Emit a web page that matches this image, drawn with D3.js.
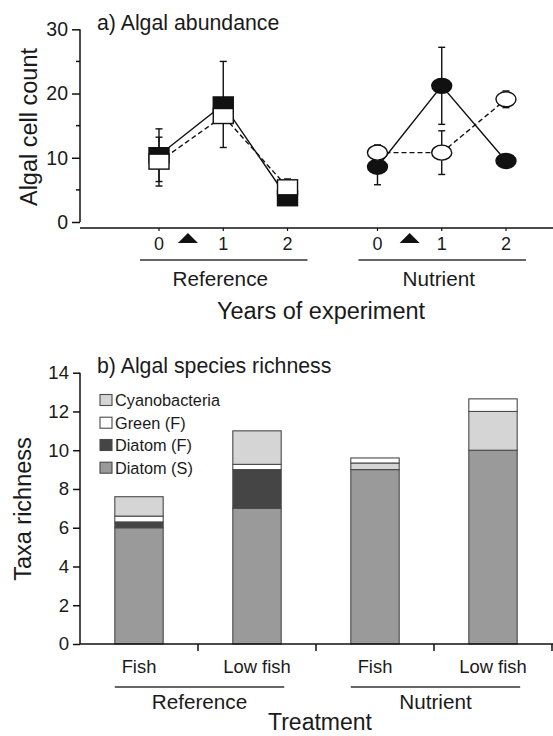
<!DOCTYPE html>
<html>
<head>
<meta charset="utf-8">
<script src="https://cdn.jsdelivr.net/npm/d3@7"></script>
<style>
  html, body { margin: 0; padding: 0; background: #fff; }
  svg text { font-family: "Liberation Sans", Arial, Helvetica, sans-serif; fill: #1a1a1a; }
</style>
</head>
<body>
<svg id="chart" width="553" height="736"></svg>
<script>
// ---------- Panel a data ----------
const years = [0, 1, 2];
const yearTicks = ["0", "1", "2"];
const groupsA = ["Reference", "Nutrient"];
const refFish = [10.4, 18.3, 3.7];        // filled squares
const refFishErr = [4.1, 6.7, 1.0];
const refLowFish = [9.4, 16.5, 5.4];      // open squares
const refLowFishErr = [3.8, 1.0, 1.3];
const nutFish = [8.6, 21.2, 9.5];         // filled circles
const nutFishErr = [2.8, 6.0, 0.8];
const nutLowFish = [10.8, 10.8, 19.1];    // open circles
const nutLowFishErr = [1.2, 3.4, 1.3];
const treatmentStart = [0.45, 0.5];       // triangles (between year 0 and 1)
const yTicksA = [0, 10, 20, 30];
const yMinorA = [5, 15, 25];

// ---------- Panel b data ----------
const treatments = ["Fish", "Low fish", "Fish", "Low fish"];
const groupsB = ["Reference", "Reference", "Nutrient", "Nutrient"];
const diatomS = [6.0, 7.0, 9.0, 10.0];
const diatomF = [0.3, 2.0, 0.0, 0.0];
const greenF = [0.3, 0.27, 0.26, 0.65];
const cyano = [1.0, 1.73, 0.34, 2.0];
const seriesNames = ["Cyanobacteria", "Green (F)", "Diatom (F)", "Diatom (S)"];
const yTicksB = [0, 2, 4, 6, 8, 10, 12, 14];

const svg = d3.select("#chart");
const ink = "#111";

function txt(g, x, y, s, size, anchor, rot) {
  const t = g.append("text").attr("font-size", size).attr("text-anchor", anchor || "start").text(s);
  if (rot) t.attr("transform", `translate(${x},${y}) rotate(${rot})`);
  else t.attr("x", x).attr("y", y);
  return t;
}

// ================= Panel a =================
const gA = svg.append("g");
const yA = d3.scaleLinear().domain([0, 30]).range([222, 29.3]);
const gapOffset = 3.4;
const xA = d3.scaleLinear().domain([0, 5.4]).range([159, 506]);
const offs = [0, gapOffset];

// y axis
const yAxisA = d3.axisLeft(yA).tickValues(yTicksA).tickSize(8).tickPadding(4).tickFormat(d3.format("d"));
const yAx = gA.append("g").attr("transform", "translate(80,0)").call(yAxisA);
yAx.select(".domain").attr("stroke", ink).attr("stroke-width", 1.5).attr("d", `M0,${yA(30)}V${yA(0)}`);
yAx.selectAll(".tick line").attr("stroke", ink).attr("stroke-width", 1.5);
yAx.selectAll(".tick text").attr("font-size", 19.5).attr("font-family", "Liberation Sans, Arial, sans-serif").attr("fill", "#1a1a1a");
gA.append("g").selectAll("line").data(yMinorA).join("line")
  .attr("x1", 76).attr("x2", 80).attr("y1", d => yA(d)).attr("y2", d => yA(d))
  .attr("stroke", ink).attr("stroke-width", 1.5);

// x axis line
const xAxisY = 228;
gA.append("line").attr("x1", 80).attr("x2", 553).attr("y1", xAxisY).attr("y2", xAxisY)
  .attr("stroke", ink).attr("stroke-width", 1.6);
groupsA.forEach((grp, gi) => {
  years.forEach((yr, i) => {
    const x = xA(yr + offs[gi]);
    gA.append("line").attr("x1", x).attr("x2", x).attr("y1", xAxisY).attr("y2", xAxisY + 3)
      .attr("stroke", ink).attr("stroke-width", 1.2);
    txt(gA, x, 249.5, yearTicks[i], 18, "middle");
  });
  // treatment triangle
  const tx = xA(treatmentStart[gi] + offs[gi]);
  gA.append("path").attr("d", `M${tx - 10},243L${tx + 10},243L${tx},233Z`).attr("fill", ink);
  // group line
  const x0 = xA(0 + offs[gi]) - 19, x1 = xA(2 + offs[gi]) + 20;
  gA.append("line").attr("x1", x0).attr("x2", x1).attr("y1", 260).attr("y2", 260)
    .attr("stroke", "#333").attr("stroke-width", 1.3);
  txt(gA, (xA(0 + offs[gi]) + xA(2 + offs[gi])) / 2 - 3, 285.5, grp, 20.7, "middle");
});
txt(gA, 321, 319, "Years of experiment", 23.5, "middle");
txt(gA, 37, 127, "Algal cell count", 23.5, "middle", -90);
txt(gA, 97, 29.5, "a) Algal abundance", 21.3, "start");

// series
const seriesA = [
  { vals: refFish, err: refFishErr, off: 0, filled: true, shape: "rect", dash: null },
  { vals: refLowFish, err: refLowFishErr, off: 0, filled: false, shape: "rect", dash: "5,3" },
  { vals: nutFish, err: nutFishErr, off: gapOffset, filled: true, shape: "ellipse", dash: null },
  { vals: nutLowFish, err: nutLowFishErr, off: gapOffset, filled: false, shape: "ellipse", dash: "5,3" }
];
const lineGen = d3.line().x(d => xA(d.x)).y(d => yA(d.y));
seriesA.forEach(s => {
  const pts = years.map((yr, i) => ({ x: yr + s.off, y: s.vals[i], e: s.err[i] }));
  s.pts = pts;
  gA.append("path").attr("d", lineGen(pts)).attr("fill", "none").attr("stroke", ink)
    .attr("stroke-width", 1.4).attr("stroke-dasharray", s.dash);
});
seriesA.forEach(s => {
  s.pts.forEach(p => {
    const x = xA(p.x), yt = yA(p.y + p.e), yb = yA(p.y - p.e);
    gA.append("line").attr("x1", x).attr("x2", x).attr("y1", yt).attr("y2", yb).attr("stroke", ink).attr("stroke-width", 1.4);
    [yt, yb].forEach(yy => gA.append("line").attr("x1", x - 3.5).attr("x2", x + 3.5).attr("y1", yy).attr("y2", yy)
      .attr("stroke", ink).attr("stroke-width", 1.4));
  });
});
// filled first, open on top
[seriesA[0], seriesA[2], seriesA[1], seriesA[3]].forEach(s => {
  s.pts.forEach(p => {
    const x = xA(p.x), y = yA(p.y);
    if (s.shape === "rect") {
      gA.append("rect").attr("x", x - 10).attr("y", y - 7.5).attr("width", 20).attr("height", 15)
        .attr("fill", s.filled ? ink : "#fff").attr("stroke", ink).attr("stroke-width", 1.4);
    } else {
      gA.append("ellipse").attr("cx", x).attr("cy", y).attr("rx", 10).attr("ry", 7.5)
        .attr("fill", s.filled ? ink : "#fff").attr("stroke", ink).attr("stroke-width", 1.4);
    }
  });
});

// ================= Panel b =================
const gB = svg.append("g");
const cats = treatments.map((t, i) => groupsB[i] + "|" + t);
const xB = d3.scaleBand().domain(cats).range([80, 552]).paddingInner(0.59).paddingOuter(0.295);
const yB = d3.scaleLinear().domain([0, 14]).range([644, 372.7]);

const colors = { "Diatom (S)": "#9a9a9a", "Diatom (F)": "#454545", "Green (F)": "#ffffff", "Cyanobacteria": "#d5d5d5" };
const valuesBy = { "Diatom (S)": diatomS, "Diatom (F)": diatomF, "Green (F)": greenF, "Cyanobacteria": cyano };
const orderRef = ["Diatom (S)", "Diatom (F)", "Green (F)", "Cyanobacteria"];
const orderNut = ["Diatom (S)", "Diatom (F)", "Cyanobacteria", "Green (F)"];

cats.forEach((c, i) => {
  const order = groupsB[i] === "Reference" ? orderRef : orderNut;
  let base = 0;
  order.forEach(name => {
    const v = valuesBy[name][i];
    if (v > 0) {
      gB.append("rect").attr("x", xB(c)).attr("width", xB.bandwidth())
        .attr("y", yB(base + v)).attr("height", yB(base) - yB(base + v))
        .attr("fill", colors[name]).attr("stroke", "#4a4a4a").attr("stroke-width", 1.1);
    }
    base += v;
  });
});

// y axis
const yAxisB = d3.axisLeft(yB).tickValues(yTicksB).tickSize(7).tickPadding(4).tickFormat(d3.format("d"));
const yBx = gB.append("g").attr("transform", "translate(80,0)").call(yAxisB);
yBx.select(".domain").attr("stroke", ink).attr("stroke-width", 1.5).attr("d", `M0,${yB(14)}V${yB(0)}`);
yBx.selectAll(".tick line").attr("stroke", ink).attr("stroke-width", 1.5);
yBx.selectAll(".tick text").attr("font-size", 18.6).attr("font-family", "Liberation Sans, Arial, sans-serif").attr("fill", "#1a1a1a");

// x axis
gB.append("line").attr("x1", 80).attr("x2", 553).attr("y1", yB(0)).attr("y2", yB(0)).attr("stroke", ink).attr("stroke-width", 1.6);
cats.forEach((c, i) => {
  const xr = xB(c) + xB.bandwidth() / 2 + xB.step() / 2;
  gB.append("line").attr("x1", xr).attr("x2", xr).attr("y1", yB(0)).attr("y2", yB(0) + 7).attr("stroke", ink).attr("stroke-width", 1.5);
  txt(gB, xB(c) + xB.bandwidth() / 2, 673, treatments[i], 18.4, "middle");
});
["Reference", "Nutrient"].forEach(grp => {
  const cs = cats.filter((c, i) => groupsB[i] === grp);
  const x0 = xB(cs[0]), x1 = xB(cs[cs.length - 1]) + xB.bandwidth() + 3;
  gB.append("line").attr("x1", x0).attr("x2", x1).attr("y1", 687).attr("y2", 687).attr("stroke", "#333").attr("stroke-width", 1.3);
  txt(gB, (x0 + x1) / 2, 709, grp, 20.7, "middle");
});
txt(gB, 320, 730, "Treatment", 23, "middle");
txt(gB, 31, 509, "Taxa richness", 23.5, "middle", -90);
txt(gB, 97, 373, "b) Algal species richness", 21.3, "start");

// legend
const legY = [400, 422.7, 445, 467.7];
seriesNames.forEach((name, i) => {
  gB.append("rect").attr("x", 100).attr("y", legY[i] - 5.5).attr("width", 12).attr("height", 11)
    .attr("fill", colors[name]).attr("stroke", "#4a4a4a").attr("stroke-width", 1.1);
  txt(gB, 115, legY[i] + 5.8, name, 16.3, "start");
});
</script>
</body>
</html>
